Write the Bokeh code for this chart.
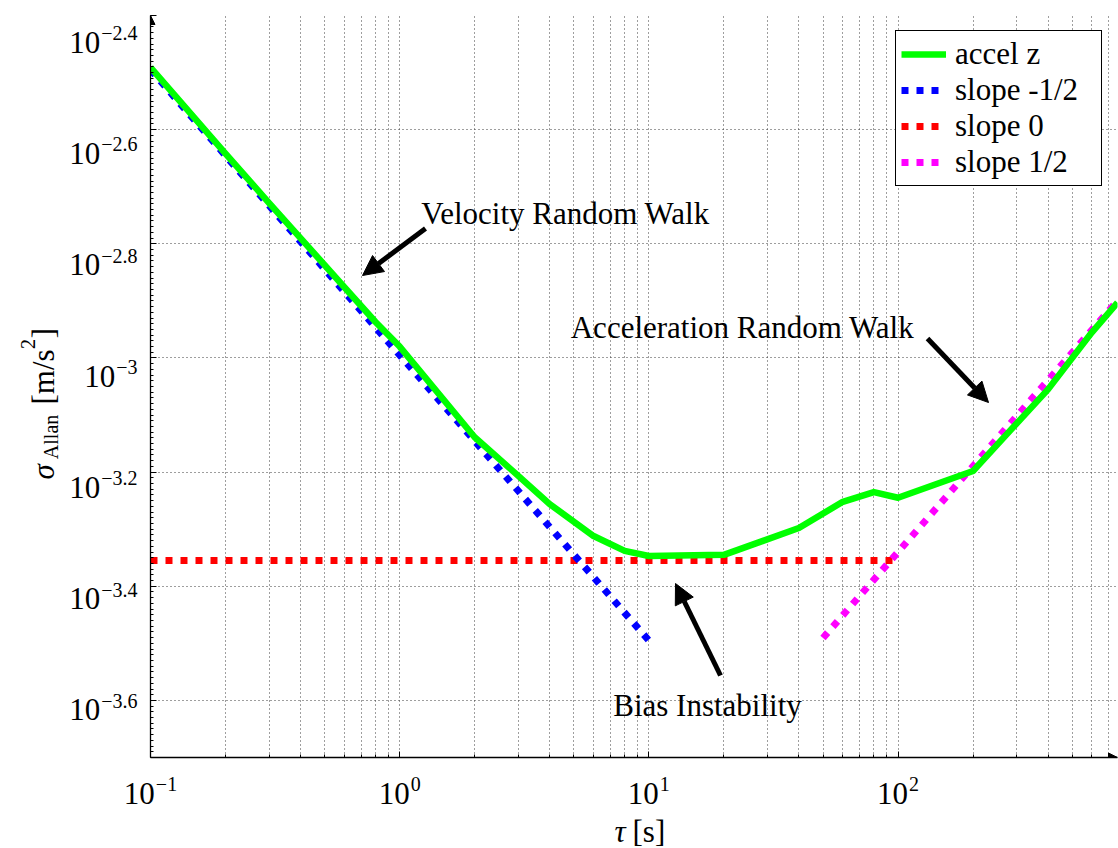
import numpy as np
from bokeh.plotting import figure
from bokeh.layouts import row, column
from bokeh.models import (Range1d, FixedTicker, Label, Arrow, NormalHead, Legend, LegendItem,
                          CustomJSTickFormatter)
from bokeh.embed import file_html
from bokeh.resources import INLINE

# ---------------- data ----------------
tau = [0.1, 0.2, 0.3, 0.4, 0.6, 0.8, 1, 2, 3, 4, 6, 8, 10, 20, 40, 60, 80, 100, 200, 400, 600, 760]
sigma_accel_z = [3.228e-3, 2.280e-3, 1.866e-3, 1.622e-3, 1.330e-3, 1.156e-3, 1.047e-3,
                 7.261e-4, 6.209e-4, 5.546e-4, 4.875e-4, 4.592e-4, 4.498e-4, 4.519e-4,
                 5.035e-4, 5.598e-4, 5.821e-4, 5.689e-4, 6.339e-4, 8.810e-4, 1.109e-3, 1.250e-3]

slope_m_half_tau = [0.1, 10]
slope_m_half_sigma = [3.199e-3, 3.199e-4]
slope_0_tau = [0.1, 100]
slope_0_sigma = [4.416e-4, 4.416e-4]
slope_p_half_tau = [50, 760]
slope_p_half_sigma = [3.232e-4, 1.260e-3]

legend_labels = ["accel z", "slope -1/2", "slope 0", "slope 1/2"]

x_tick_values = [0.1, 1, 10, 100]
x_tick_exponents = ["\u22121", "0", "1", "2"]
y_tick_values = [10 ** -3.6, 10 ** -3.4, 10 ** -3.2, 10 ** -3.0, 10 ** -2.8, 10 ** -2.6, 10 ** -2.4]
y_tick_exponents = ["\u22123.6", "\u22123.4", "\u22123.2", "\u22123", "\u22122.8", "\u22122.6", "\u22122.4"]

XMIN, XMAX = 0.1, 760.0
YMIN, YMAX = 10 ** -3.7, 10 ** -2.4

FONT = "Times"
MAIN = 31
SUB = 20

# canvas geometry: plot frame spans x 150..1117, y 15..757 of the 1118x848 page
FL, FR, FT, FB = 150, 1117, 15, 757
LEFT_W = 146          # width of the left label strip
TOP_H = 761           # height of the upper row (main plot)


def X(px):
    return 10 ** (np.log10(XMIN) + (px - FL) / (FR - FL) * np.log10(XMAX / XMIN))


def Y(py):
    return 10 ** (np.log10(YMAX) - (py - FT) / (FB - FT) * np.log10(YMAX / YMIN))


CW = {"0": .5, "1": .5, "2": .5, "3": .5, "4": .5, "5": .5, "6": .5, "7": .5, "8": .5, "9": .5,
      ".": .25, "\u2212": .564, " ": .25, "[": .333, "]": .333, "m": .778, "/": .278, "s": .389,
      "A": .722, "l": .278, "a": .444, "n": .5, "\u03c3": .55}


def tw(s, size):
    return sum(CW.get(c, .5) for c in s) * size


def label(fig, x, y, text, size, dx=0, dy=0, align="left", angle=0, style="normal"):
    fig.add_layout(Label(x=x, y=y, text=text, x_offset=dx, y_offset=dy, text_font=FONT,
                         text_font_size=f"{size}px", text_align=align, text_baseline="alphabetic",
                         angle=angle, text_font_style=style, text_color="black"))


# ---------------- main plot ----------------
p = figure(width=1118 - LEFT_W, height=TOP_H, x_axis_type="log", y_axis_type="log",
           x_range=Range1d(XMIN, XMAX), y_range=Range1d(YMIN, YMAX),
           output_backend="svg", toolbar_location=None,
           min_border_left=FL - LEFT_W, min_border_right=1118 - FR, min_border_top=FT,
           min_border_bottom=TOP_H - FB)
p.outline_line_color = None
p.background_fill_color = "white"
p.border_fill_color = "white"

p.xaxis.ticker = FixedTicker(ticks=x_tick_values,
                             minor_ticks=[m * 10 ** k for k in range(-1, 3) for m in range(2, 10) if m * 10 ** k < XMAX])
p.yaxis.ticker = FixedTicker(ticks=y_tick_values,
                             minor_ticks=[10 ** (-3.7 + 0.01 * i) for i in range(131)])
for ax in (p.xaxis, p.yaxis):
    ax.formatter = CustomJSTickFormatter(code="return ' '")
    ax.major_label_text_color = None
    ax.major_label_text_font_size = "1px"
    ax.major_label_text_font = FONT
    ax.major_label_standoff = 0
    ax.major_tick_in = 6
    ax.major_tick_out = 0
    ax.minor_tick_in = 3
    ax.minor_tick_out = 0
    ax.axis_line_width = 1.3
    ax.axis_line_color = "black"
    ax.major_tick_line_color = "black"
    ax.minor_tick_line_color = "black"

for g in (p.xgrid, p.ygrid):
    g.grid_line_color = "#3c3c3c"
    g.grid_line_dash = "1 3"
    g.grid_line_width = 1
p.xgrid.minor_grid_line_color = "#3c3c3c"
p.xgrid.minor_grid_line_dash = "1 3"
p.xgrid.minor_grid_line_width = 1

r_red = p.line(slope_0_tau, slope_0_sigma, line_color="#ff0000", line_width=7, line_dash="7 8")
r_blue = p.line(slope_m_half_tau, slope_m_half_sigma, line_color="#0000ff", line_width=7, line_dash="7 8")
r_mag = p.line(slope_p_half_tau, slope_p_half_sigma, line_color="#ff00ff", line_width=7, line_dash="7 8")
r_green = p.line(tau, sigma_accel_z, line_color="#00ff00", line_width=6.5, line_join="round")

label(p, X(565), Y(213), "Velocity Random Walk", MAIN, align="center")
label(p, X(742), Y(327), "Acceleration Random Walk", MAIN, align="center")
label(p, X(707), Y(705), "Bias Instability", MAIN, align="center")

legend = Legend(items=[LegendItem(label=legend_labels[0], renderers=[r_green]),
                       LegendItem(label=legend_labels[1], renderers=[r_blue]),
                       LegendItem(label=legend_labels[2], renderers=[r_red]),
                       LegendItem(label=legend_labels[3], renderers=[r_mag])],
                location="top_right", glyph_width=45, glyph_height=30, label_height=30,
                label_width=141, label_standoff=9, spacing=0, padding=5, margin=15,
                border_line_color="black", border_line_width=1.5, border_line_alpha=1.0,
                background_fill_color="white", background_fill_alpha=1.0,
                label_text_font=FONT, label_text_font_size=f"{MAIN}px",
                label_text_font_style="normal", label_text_color="black")
p.add_layout(legend)

for (x0, y0, x1, y1) in [(425, 228, 362, 275), (927, 338, 988, 402), (720, 675, 675, 583)]:
    p.add_layout(Arrow(end=NormalHead(size=20, fill_color="black", line_color="black", line_width=1),
                       x_start=X(x0), y_start=Y(y0), x_end=X(x1), y_end=Y(y1),
                       line_width=5, line_color="black"))

# axis arrow heads
p.add_layout(Arrow(end=NormalHead(size=9, fill_color="black", line_color="black", line_width=1),
                   x_start=XMIN, y_start=Y(40), x_end=XMIN, y_end=Y(FT), line_alpha=0))
p.add_layout(Arrow(end=NormalHead(size=9, fill_color="black", line_color="black", line_width=1),
                   x_start=X(1090), y_start=YMIN, x_end=X(FR), y_end=YMIN, line_alpha=0))

# ---------------- left strip: y tick labels and y axis label ----------------
lf = figure(width=LEFT_W, height=TOP_H, y_axis_type="log",
            x_range=Range1d(0, LEFT_W), y_range=Range1d(Y(TOP_H), Y(0)),
            x_axis_location=None, y_axis_location=None, min_border=0,
            output_backend="svg", toolbar_location=None)
lf.outline_line_color = None
lf.grid.visible = False

for v, e in zip(y_tick_values, y_tick_exponents):
    label(lf, 137, v, e, SUB, dy=-3, align="right")
    label(lf, 137 - tw(e, SUB) - 1, v, "10", MAIN, dy=-12, align="right")

# rotated y-axis label pieces: (text, size, baseline x, start y, style)
pieces = [("\u03c3", MAIN, 43, 476, "italic"), ("Allan", SUB, 50, 455, "normal"),
          ("[m/s", MAIN, 43, 399, "normal"), ("2", SUB, 27, 342, "normal"),
          ("]", MAIN, 43, 331, "normal")]
for txt, sz, bx, sy, st in pieces:
    label(lf, bx, Y(sy), txt, sz, angle=np.pi / 2, style=st)

# ---------------- bottom strip: x tick labels and x axis label ----------------
bf = figure(width=1118, height=848 - TOP_H, x_axis_type="log",
            x_range=Range1d(X(0), X(1118)), y_range=Range1d(848, TOP_H),
            x_axis_location=None, y_axis_location=None, min_border=0,
            output_backend="svg", toolbar_location=None)
bf.outline_line_color = None
bf.grid.visible = False

for t, e in zip(x_tick_values, x_tick_exponents):
    W = tw("10", MAIN) + 1 + tw(e, SUB)
    label(bf, t, 793, "10", MAIN, dx=-W / 2)
    label(bf, t, 783, e, SUB, dx=-W / 2 + tw("10", MAIN) + 1)

label(bf, X(625), 831, "\u03c4", MAIN, align="right", style="italic")
label(bf, X(632), 831, "[s]", MAIN)

layout = column(row(lf, p, spacing=0), bf, spacing=0)
open("out.html", "w").write(file_html(layout, INLINE))
